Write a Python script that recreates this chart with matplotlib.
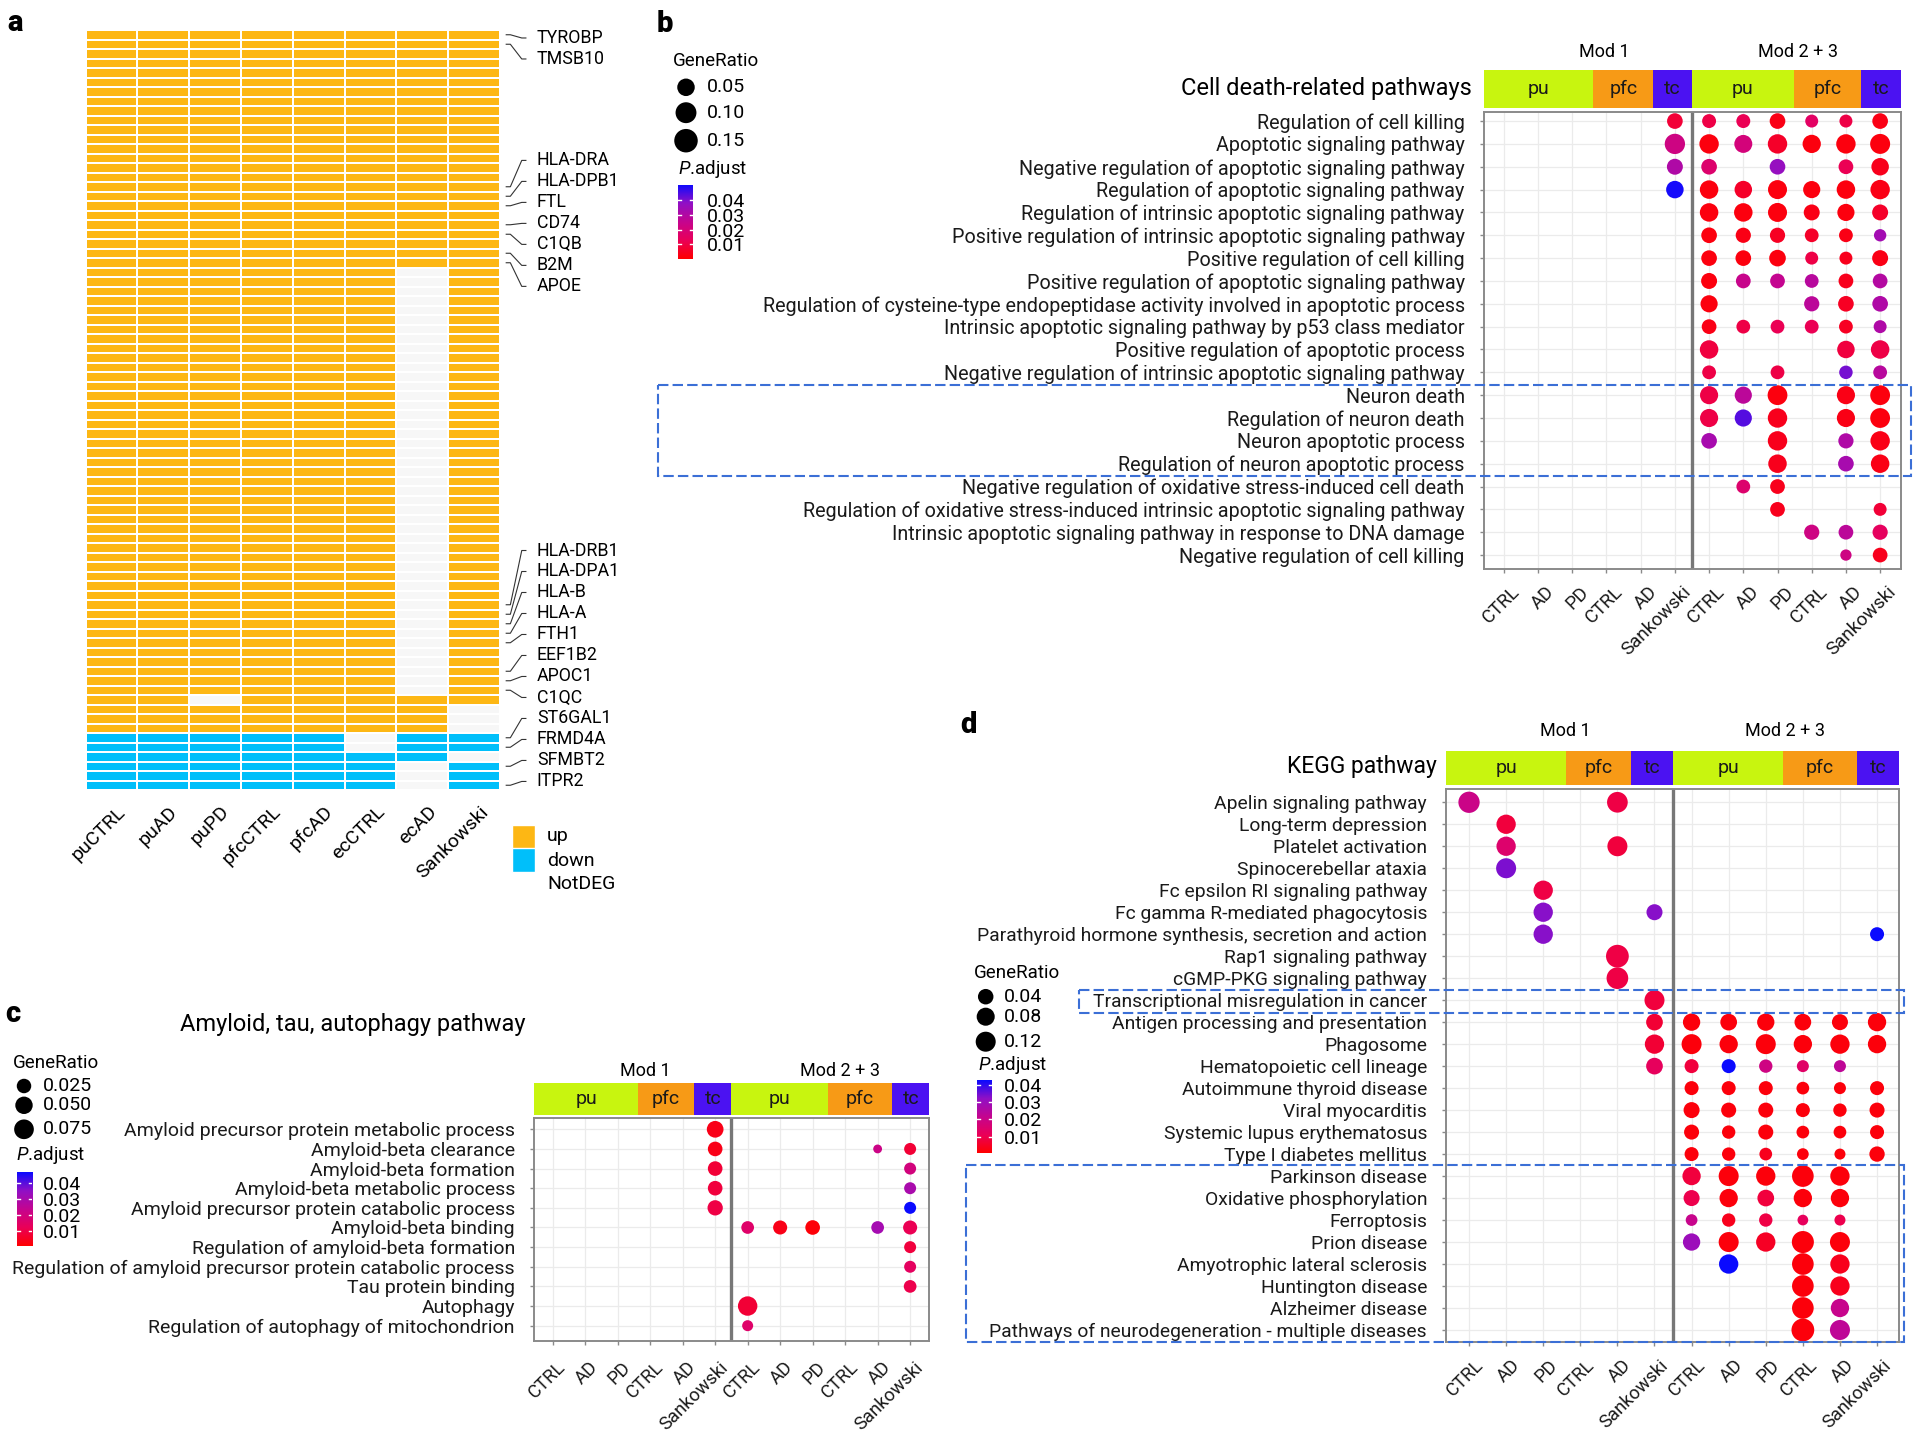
import numpy as np
import matplotlib
matplotlib.use('Agg')
import matplotlib.pyplot as plt
from matplotlib.colors import LinearSegmentedColormap, ListedColormap, Normalize
from matplotlib.patches import Rectangle
from matplotlib.transforms import ScaledTranslation

plt.rcParams['font.family'] = ['Roboto', 'DejaVu Sans']
plt.rcParams['mathtext.fontset'] = 'custom'
plt.rcParams['mathtext.rm'] = 'Roboto'
plt.rcParams['mathtext.it'] = 'Roboto:italic'

# ---------------- data: panel a (DEG status heatmap) ----------------
samples = ['puCTRL', 'puAD', 'puPD', 'pfcCTRL', 'pfcAD', 'ecCTRL', 'ecAD', 'Sankowski']
# status runs from top to bottom for every sample (80 genes)
heat_runs = [
    [('up', 74), ('down', 6)],
    [('up', 74), ('down', 6)],
    [('up', 70), ('NotDEG', 1), ('up', 3), ('down', 6)],
    [('up', 74), ('down', 6)],
    [('up', 74), ('down', 6)],
    [('up', 74), ('NotDEG', 2), ('down', 4)],
    [('up', 25), ('NotDEG', 45), ('up', 4), ('down', 3), ('NotDEG', 3)],
    [('up', 71), ('NotDEG', 3), ('down', 2), ('NotDEG', 1), ('down', 3)],
]
marked_genes = ['TYROBP', 'TMSB10', 'HLA-DRA', 'HLA-DPB1', 'FTL', 'CD74', 'C1QB', 'B2M', 'APOE',
                'HLA-DRB1', 'HLA-DPA1', 'HLA-B', 'HLA-A', 'FTH1', 'EEF1B2', 'APOC1', 'C1QC',
                'ST6GAL1', 'FRMD4A', 'SFMBT2', 'ITPR2']
marked_rows = [0, 1, 16, 17, 18, 20, 21, 23, 24, 60, 61, 62, 63, 64, 67, 68, 69, 74, 75, 77, 79]

# ---------------- shared dot-plot categories ----------------
conditions = ['CTRL', 'AD', 'PD', 'CTRL', 'AD', 'Sankowski'] * 2
regions = ['pu', 'pfc', 'tc', 'pu', 'pfc', 'tc']
region_colors = ['#C8F50F', '#F79A16', '#4B12F2', '#C8F50F', '#F79A16', '#4B12F2']

# ---------------- panel b ----------------
b_terms = ['Regulation of cell killing', 'Apoptotic signaling pathway',
           'Negative regulation of apoptotic signaling pathway', 'Regulation of apoptotic signaling pathway',
           'Regulation of intrinsic apoptotic signaling pathway',
           'Positive regulation of intrinsic apoptotic signaling pathway', 'Positive regulation of cell killing',
           'Positive regulation of apoptotic signaling pathway',
           'Regulation of cysteine-type endopeptidase activity involved in apoptotic process',
           'Intrinsic apoptotic signaling pathway by p53 class mediator', 'Positive regulation of apoptotic process',
           'Negative regulation of intrinsic apoptotic signaling pathway', 'Neuron death',
           'Regulation of neuron death', 'Neuron apoptotic process', 'Regulation of neuron apoptotic process',
           'Negative regulation of oxidative stress-induced cell death',
           'Regulation of oxidative stress-induced intrinsic apoptotic signaling pathway',
           'Intrinsic apoptotic signaling pathway in response to DNA damage', 'Negative regulation of cell killing']
b_ratio = [
    [0, 0, 0, 0, 0, .030, .016, .016, .030, .010, .010, .030],
    [0, 0, 0, 0, 0, .090, .076, .056, .076, .060, .076, .085],
    [0, 0, 0, 0, 0, .033, .030, 0, .030, 0, .022, .050],
    [0, 0, 0, 0, 0, .050, .063, .050, .070, .046, .063, .076],
    [0, 0, 0, 0, 0, 0, .063, .063, .070, .033, .046, .033],
    [0, 0, 0, 0, 0, 0, .030, .026, .026, .015, .015, .007],
    [0, 0, 0, 0, 0, 0, .030, .030, .040, .010, .010, .033],
    [0, 0, 0, 0, 0, 0, .033, .022, .022, .015, .022, .022],
    [0, 0, 0, 0, 0, 0, .046, 0, 0, .026, .030, .030],
    [0, 0, 0, 0, 0, 0, .022, .015, .015, .015, .015, .010],
    [0, 0, 0, 0, 0, 0, .063, 0, 0, 0, .050, .063],
    [0, 0, 0, 0, 0, 0, .015, 0, .015, 0, .013, .015],
    [0, 0, 0, 0, 0, 0, .058, .046, .082, 0, .058, .082],
    [0, 0, 0, 0, 0, 0, .058, .046, .076, 0, .058, .082],
    [0, 0, 0, 0, 0, 0, .030, 0, .076, 0, .026, .076],
    [0, 0, 0, 0, 0, 0, 0, 0, .063, 0, .030, .063],
    [0, 0, 0, 0, 0, 0, 0, .015, .022, 0, 0, 0],
    [0, 0, 0, 0, 0, 0, 0, 0, .022, 0, 0, .010],
    [0, 0, 0, 0, 0, 0, 0, 0, 0, .026, .022, .026],
    [0, 0, 0, 0, 0, 0, 0, 0, 0, 0, .003, .022],
]
b_padj = [
    [0, 0, 0, 0, 0, .008, .010, .012, .003, .015, .010, .003],
    [0, 0, 0, 0, 0, .022, .002, .020, .006, .002, .002, .002],
    [0, 0, 0, 0, 0, .030, .017, 0, .036, 0, .012, .004],
    [0, 0, 0, 0, 0, .049, .002, .006, .002, .002, .002, .003],
    [0, 0, 0, 0, 0, 0, .002, .002, .002, .003, .002, .006],
    [0, 0, 0, 0, 0, 0, .002, .003, .005, .006, .003, .033],
    [0, 0, 0, 0, 0, 0, .002, .002, .002, .010, .004, .003],
    [0, 0, 0, 0, 0, 0, .002, .024, .025, .028, .004, .029],
    [0, 0, 0, 0, 0, 0, .002, 0, 0, .027, .005, .030],
    [0, 0, 0, 0, 0, 0, .003, .010, .012, .012, .005, .030],
    [0, 0, 0, 0, 0, 0, .009, 0, 0, 0, .009, .010],
    [0, 0, 0, 0, 0, 0, .010, 0, .010, 0, .040, .028],
    [0, 0, 0, 0, 0, 0, .010, .027, .002, 0, .003, .002],
    [0, 0, 0, 0, 0, 0, .010, .043, .004, 0, .003, .002],
    [0, 0, 0, 0, 0, 0, .032, 0, .004, 0, .030, .003],
    [0, 0, 0, 0, 0, 0, 0, 0, .004, 0, .032, .003],
    [0, 0, 0, 0, 0, 0, 0, .017, .004, 0, 0, 0],
    [0, 0, 0, 0, 0, 0, 0, 0, .004, 0, 0, .008],
    [0, 0, 0, 0, 0, 0, 0, 0, 0, .022, .027, .014],
    [0, 0, 0, 0, 0, 0, 0, 0, 0, 0, .022, .004],
]

# ---------------- panel c ----------------
c_terms = ['Amyloid precursor protein metabolic process', 'Amyloid-beta clearance', 'Amyloid-beta formation',
           'Amyloid-beta metabolic process', 'Amyloid precursor protein catabolic process',
           'Amyloid-beta binding', 'Regulation of amyloid-beta formation',
           'Regulation of amyloid precursor protein catabolic process', 'Tau protein binding', 'Autophagy',
           'Regulation of autophagy of mitochondrion']
c_ratio = [
    [0, 0, 0, 0, 0, .043, 0, 0, 0, 0, 0, 0],
    [0, 0, 0, 0, 0, .026, 0, 0, 0, 0, .001, .0105],
    [0, 0, 0, 0, 0, .026, 0, 0, 0, 0, 0, .0105],
    [0, 0, 0, 0, 0, .026, 0, 0, 0, 0, 0, .0105],
    [0, 0, 0, 0, 0, .031, 0, 0, 0, 0, 0, .0105],
    [0, 0, 0, 0, 0, 0, .014, .022, .026, 0, .014, .022],
    [0, 0, 0, 0, 0, 0, 0, 0, 0, 0, 0, .0105],
    [0, 0, 0, 0, 0, 0, 0, 0, 0, 0, 0, .0105],
    [0, 0, 0, 0, 0, 0, 0, 0, 0, 0, 0, .014],
    [0, 0, 0, 0, 0, 0, .072, 0, 0, 0, 0, 0],
    [0, 0, 0, 0, 0, 0, .0065, 0, 0, 0, 0, 0],
]
c_padj = [
    [0, 0, 0, 0, 0, .004, 0, 0, 0, 0, 0, 0],
    [0, 0, 0, 0, 0, .004, 0, 0, 0, 0, .022, .008],
    [0, 0, 0, 0, 0, .008, 0, 0, 0, 0, 0, .020],
    [0, 0, 0, 0, 0, .009, 0, 0, 0, 0, 0, .030],
    [0, 0, 0, 0, 0, .010, 0, 0, 0, 0, 0, .048],
    [0, 0, 0, 0, 0, 0, .016, .004, .002, 0, .031, .012],
    [0, 0, 0, 0, 0, 0, 0, 0, 0, 0, 0, .009],
    [0, 0, 0, 0, 0, 0, 0, 0, 0, 0, 0, .014],
    [0, 0, 0, 0, 0, 0, 0, 0, 0, 0, 0, .011],
    [0, 0, 0, 0, 0, 0, .008, 0, 0, 0, 0, 0],
    [0, 0, 0, 0, 0, 0, .016, 0, 0, 0, 0, 0],
]

# ---------------- panel d ----------------
d_terms = ['Apelin signaling pathway', 'Long-term depression', 'Platelet activation', 'Spinocerebellar ataxia',
           'Fc epsilon RI signaling pathway', 'Fc gamma R-mediated phagocytosis',
           'Parathyroid hormone synthesis, secretion and action', 'Rap1 signaling pathway',
           'cGMP-PKG signaling pathway', 'Transcriptional misregulation in cancer',
           'Antigen processing and presentation', 'Phagosome', 'Hematopoietic cell lineage',
           'Autoimmune thyroid disease', 'Viral myocarditis', 'Systemic lupus erythematosus',
           'Type I diabetes mellitus', 'Parkinson disease', 'Oxidative phosphorylation', 'Ferroptosis',
           'Prion disease', 'Amyotrophic lateral sclerosis', 'Huntington disease', 'Alzheimer disease',
           'Pathways of neurodegeneration - multiple diseases']
d_ratio = [
    [.150, 0, 0, 0, .136, 0, 0, 0, 0, 0, 0, 0],
    [0, .105, 0, 0, 0, 0, 0, 0, 0, 0, 0, 0],
    [0, .105, 0, 0, .120, 0, 0, 0, 0, 0, 0, 0],
    [0, .120, 0, 0, 0, 0, 0, 0, 0, 0, 0, 0],
    [0, 0, .105, 0, 0, 0, 0, 0, 0, 0, 0, 0],
    [0, 0, .105, 0, 0, .047, 0, 0, 0, 0, 0, 0],
    [0, 0, .105, 0, 0, 0, 0, 0, 0, 0, 0, .023],
    [0, 0, 0, 0, .190, 0, 0, 0, 0, 0, 0, 0],
    [0, 0, 0, 0, .160, 0, 0, 0, 0, 0, 0, 0],
    [0, 0, 0, 0, 0, .120, 0, 0, 0, 0, 0, 0],
    [0, 0, 0, 0, 0, .057, .067, .057, .067, .057, .047, .085],
    [0, 0, 0, 0, 0, .105, .120, .085, .120, .085, .105, .085],
    [0, 0, 0, 0, 0, .057, .023, .023, .017, .0075, .0075, 0],
    [0, 0, 0, 0, 0, 0, .023, .023, .023, .012, .0075, .023],
    [0, 0, 0, 0, 0, 0, .047, .034, .034, .023, .017, .034],
    [0, 0, 0, 0, 0, 0, .034, .017, .034, .012, .012, .023],
    [0, 0, 0, 0, 0, 0, .023, .017, .012, .006, .003, .038],
    [0, 0, 0, 0, 0, 0, .085, .120, .105, .160, .105, 0],
    [0, 0, 0, 0, 0, 0, .047, .085, .057, .085, .085, 0],
    [0, 0, 0, 0, 0, 0, .006, .017, .017, .002, .003, 0],
    [0, 0, 0, 0, 0, 0, .067, .120, .105, .170, .120, 0],
    [0, 0, 0, 0, 0, 0, 0, .105, 0, .160, .105, 0],
    [0, 0, 0, 0, 0, 0, 0, 0, 0, .160, .105, 0],
    [0, 0, 0, 0, 0, 0, 0, 0, 0, .160, .085, 0],
    [0, 0, 0, 0, 0, 0, 0, 0, 0, .190, .120, 0],
]
d_padj = [
    [.020, 0, 0, 0, .009, 0, 0, 0, 0, 0, 0, 0],
    [0, .008, 0, 0, 0, 0, 0, 0, 0, 0, 0, 0],
    [0, .015, 0, 0, .008, 0, 0, 0, 0, 0, 0, 0],
    [0, .034, 0, 0, 0, 0, 0, 0, 0, 0, 0, 0],
    [0, 0, .009, 0, 0, 0, 0, 0, 0, 0, 0, 0],
    [0, 0, .033, 0, 0, .033, 0, 0, 0, 0, 0, 0],
    [0, 0, .033, 0, 0, 0, 0, 0, 0, 0, 0, .045],
    [0, 0, 0, 0, .009, 0, 0, 0, 0, 0, 0, 0],
    [0, 0, 0, 0, .009, 0, 0, 0, 0, 0, 0, 0],
    [0, 0, 0, 0, 0, .008, 0, 0, 0, 0, 0, 0],
    [0, 0, 0, 0, 0, .007, .002, .002, .002, .002, .002, .002],
    [0, 0, 0, 0, 0, .007, .002, .002, .002, .002, .002, .002],
    [0, 0, 0, 0, 0, .012, .008, .045, .019, .014, .023, 0],
    [0, 0, 0, 0, 0, 0, .002, .002, .002, .002, .002, .002],
    [0, 0, 0, 0, 0, 0, .002, .002, .002, .002, .002, .002],
    [0, 0, 0, 0, 0, 0, .002, .002, .002, .002, .002, .002],
    [0, 0, 0, 0, 0, 0, .002, .002, .004, .002, .002, .002],
    [0, 0, 0, 0, 0, 0, .008, .002, .002, .002, .002, 0],
    [0, 0, 0, 0, 0, 0, .010, .002, .008, .002, .002, 0],
    [0, 0, 0, 0, 0, 0, .021, .004, .009, .012, .010, 0],
    [0, 0, 0, 0, 0, 0, .030, .002, .005, .002, .002, 0],
    [0, 0, 0, 0, 0, 0, 0, .044, 0, .002, .004, 0],
    [0, 0, 0, 0, 0, 0, 0, 0, 0, .002, .004, 0],
    [0, 0, 0, 0, 0, 0, 0, 0, 0, .002, .021, 0],
    [0, 0, 0, 0, 0, 0, 0, 0, 0, .002, .023, 0],
]

# legend keys
b_leg_vals = [0.05, 0.10, 0.15]
c_leg_vals = [0.025, 0.050, 0.075]
d_leg_vals = [0.04, 0.08, 0.12]

# ---------------- figure ----------------
W, H, DPI = 1920, 1431, 100
fig = plt.figure(figsize=(W / DPI, H / DPI), dpi=DPI)
padj_cmap = LinearSegmentedColormap.from_list(
    'padj', [(0, '#FF0000'), (0.25, '#EA0058'), (0.5, '#C40590'), (0.75, '#9010C6'), (1, '#0A0AFF')])
dash_blue = '#3B6FD6'


def px_axes(x0, y0, x1, y1, **kw):
    return fig.add_axes([x0 / W, 1 - y1 / H, (x1 - x0) / W, (y1 - y0) / H], **kw)


def shift(labels, dx_px, dy_px=0):
    off = ScaledTranslation(dx_px / DPI, -dy_px / DPI, fig.dpi_scale_trans)
    for t in labels:
        t.set_transform(t.get_transform() + off)


# ---------- panel a ----------
code = {'NotDEG': 0, 'up': 1, 'down': 2}
n_genes = sum(n for _, n in heat_runs[0])
status = np.zeros((n_genes, len(samples)))
for j, runs in enumerate(heat_runs):
    r = 0
    for st, n in runs:
        status[r:r + n, j] = code[st]
        r += n

axa = px_axes(85.7, 30, 500, 790)
axa.pcolormesh(np.arange(len(samples) + 1), np.arange(n_genes + 1), status,
               cmap=ListedColormap(['#F7F7F7', '#FDB714', '#00BFFA']), vmin=-0.5, vmax=2.5,
               edgecolors='white', linewidth=1.4)
axa.set_xlim(0, len(samples))
axa.set_ylim(n_genes, 0)
axa.set_yticks([])
axa.set_xticks(np.arange(len(samples)) + 0.5)
axa.set_xticklabels(samples, rotation=45, ha='right', va='top', rotation_mode='anchor', fontsize=14)
axa.tick_params(axis='x', length=0, pad=9)
shift(axa.get_xticklabels(), 5)
for s in axa.spines.values():
    s.set_visible(False)


def spread(targets, gap, lo, hi):
    groups = [[t] for t in targets]

    def start(g):
        s0 = np.mean(g) - (len(g) - 1) * gap / 2
        return min(max(s0, lo), hi - (len(g) - 1) * gap)

    merged = True
    while merged:
        merged = False
        for i in range(len(groups) - 1):
            if start(groups[i]) + len(groups[i]) * gap > start(groups[i + 1]):
                groups[i] = groups[i] + groups.pop(i + 1)
                merged = True
                break
    out = []
    for g in groups:
        out += [start(g) + k * gap for k in range(len(g))]
    return out


targets = [r + 0.5 for r in marked_rows]
label_pos = spread(targets, 2.21, 0.84, 79.1)
for gname, t, lp in zip(marked_genes, targets, label_pos):
    axa.plot([8.12, 8.2, 8.42, 8.5], [t, t, lp, lp], color='#333333', lw=0.8, clip_on=False)
    axa.text(8.71, lp, gname, va='center', ha='left', fontsize=12.8)


# ---------- dot plot helper ----------
header_edges = [3.62, 5.36, 6.5, 9.47, 11.45]


def dot_panel(box, hdr, terms, ratio, padj, xlim, ylim, size_fn, norm, fs, xfs, mod_x, mod_gap, xpad, xdx):
    ax = px_axes(*box)
    ratio = np.asarray(ratio, float)
    padj = np.asarray(padj, float)
    rr, cc = np.nonzero(ratio)
    ax.scatter(cc + 1, rr + 1, s=size_fn(ratio[rr, cc]), c=padj[rr, cc], cmap=padj_cmap, norm=norm,
               linewidths=0, zorder=3)
    ax.set_xlim(*xlim)
    ax.set_ylim(*ylim)
    ax.set_xticks(np.arange(1, len(conditions) + 1))
    ax.set_xticklabels(conditions, rotation=45, ha='right', va='top', rotation_mode='anchor', fontsize=xfs)
    ax.set_yticks(np.arange(1, len(terms) + 1))
    ax.set_yticklabels(terms, fontsize=fs)
    ax.grid(color='#EBEBEB', lw=0.9)
    ax.set_axisbelow(True)
    ax.axvline(6.5, color='#777777', lw=2.4, zorder=2)
    for s in ax.spines.values():
        s.set_color('#8A8A8A')
        s.set_linewidth(1.4)
    ax.tick_params(axis='y', color='#8A8A8A', length=2.9, width=1, labelcolor='#1A1A1A', pad=11)
    ax.tick_params(axis='x', color='#8A8A8A', length=2.9, width=1, labelcolor='#1A1A1A', pad=xpad)
    shift(ax.get_xticklabels(), xdx)

    hx = px_axes(box[0], hdr[0], box[2], hdr[1])
    hx.set_xlim(*xlim)
    hx.set_ylim(0, 1)
    hx.axis('off')
    edges = [xlim[0]] + header_edges + [xlim[1]]
    for i, (name, col) in enumerate(zip(regions, region_colors)):
        hx.add_patch(Rectangle((edges[i], 0), edges[i + 1] - edges[i], 1, fc=col, ec='none'))
        hx.text((edges[i] + edges[i + 1]) / 2, 0.5, name, ha='center', va='center', fontsize=14,
                color='#1A1A1A')
    for mx, lab in zip(mod_x, ['Mod 1', 'Mod 2 + 3']):
        hx.annotate(lab, (mx, 1), xycoords=('data', 'axes fraction'), xytext=(0, mod_gap),
                    textcoords='offset points', ha='center', va='center', fontsize=13)
    return ax


def sizer(a, b):
    return lambda v: ((a + b * np.sqrt(np.asarray(v))) * 72 / DPI) ** 2


b_size = sizer(9.3, 36.65)
c_size = sizer(7.4, 44.8)
d_size = sizer(9.34, 30.8)
b_norm = Normalize(0.0, 0.05)
c_norm = Normalize(0.0009, 0.0472)
d_norm = Normalize(0.0006, 0.043)

dot_panel((1484, 111.7, 1901, 569), (70, 108), b_terms, b_ratio, b_padj, (0.42, 12.61), (20.61, 0.59),
          b_size, b_norm, 14.2, 13.5, [3.95, 9.6], 13, 7, 7)
dot_panel((534.3, 1118.3, 929.3, 1341), (1083.3, 1115), c_terms, c_ratio, c_padj, (0.434, 12.59),
          (11.78, 0.44), c_size, c_norm, 14, 13.3, [3.84, 9.84], 9, 9.5, 4)
dot_panel((1446.4, 789.3, 1899.3, 1342.3), (750.7, 785), d_terms, d_ratio, d_padj, (0.39, 12.6),
          (25.56, 0.41), d_size, d_norm, 13.9, 13.3, [3.59, 9.52], 14, 7, 5)


# ---------- legends ----------
def colorbar(box, norm, pad):
    cax = px_axes(*box)
    grad = np.linspace(norm.vmin, norm.vmax, 256)[:, None]
    cax.imshow(grad, cmap=padj_cmap, norm=norm, aspect='auto', origin='lower',
               extent=[0, 1, norm.vmin, norm.vmax])
    ticks = [0.01, 0.02, 0.03, 0.04]
    for t in ticks:
        cax.plot([0, 0.2], [t, t], color='white', lw=1)
        cax.plot([0.8, 1], [t, t], color='white', lw=1)
    cax.set_xlim(0, 1)
    cax.set_ylim(norm.vmin, norm.vmax)
    cax.set_xticks([])
    cax.yaxis.tick_right()
    cax.set_yticks(ticks)
    cax.set_yticklabels(['%.2f' % t for t in ticks], fontsize=14)
    cax.tick_params(length=0, pad=pad)
    for s in cax.spines.values():
        s.set_visible(False)


ov = fig.add_axes([0, 0, 1, 1], zorder=10)
ov.set_xlim(0, W)
ov.set_ylim(H, 0)
ov.axis('off')


def size_legend(title_xy, dot_x, dot_ys, values, labels, size_fn, lab_x, padj_xy):
    ov.text(title_xy[0], title_xy[1], 'GeneRatio', fontsize=13.5, va='center', ha='left')
    ov.scatter([dot_x] * len(values), dot_ys, s=size_fn(values), color='black', linewidths=0)
    for y, lab in zip(dot_ys, labels):
        ov.text(lab_x, y, lab, fontsize=14, va='center', ha='left')
    ov.text(padj_xy[0], padj_xy[1], r'$\mathit{P}$.adjust', fontsize=13.5, va='center', ha='left')


size_legend((672.7, 60.7), 686, [87.3, 112.7, 140.7], b_leg_vals, ['0.05', '0.10', '0.15'], b_size, 707,
            (677.5, 169))
colorbar((678, 185, 693, 259.3), b_norm, 10)
size_legend((12.5, 1063.3), 24, [1086, 1105.3, 1129.3], c_leg_vals, ['0.025', '0.050', '0.075'], c_size, 43,
            (16, 1155))
colorbar((16.8, 1171.7, 32, 1245.7), c_norm, 8)
size_legend((974, 973.3), 985.7, [996.7, 1016.7, 1041.7], d_leg_vals, ['0.04', '0.08', '0.12'], d_size, 1003.6,
            (977.5, 1065))
colorbar((976.8, 1080, 991.8, 1152.7), d_norm, 8.5)

# heatmap legend
for y0, col in [(825, '#FDB714'), (848, '#00BFFA')]:
    ov.add_patch(Rectangle((512, y0), 23, 24, fc=col, ec='white', lw=1))
for y, lab in [(836, 'up'), (861, 'down'), (884, 'NotDEG')]:
    ov.text(547, y, lab, fontsize=14, va='center', ha='left')

# titles
ov.text(1472, 89, 'Cell death-related pathways', fontsize=17, ha='right', va='center')
ov.text(180, 1024, 'Amyloid, tau, autophagy pathway', fontsize=17, ha='left', va='center')
ov.text(1437, 766.7, 'KEGG pathway', fontsize=16.5, ha='right', va='center')

# panel letters
for x, y, lab in [(7, 31, 'a'), (657, 32, 'b'), (5, 1022, 'c'), (960, 733, 'd')]:
    ov.text(x, y, lab, fontsize=21, fontweight='heavy', ha='left', va='baseline')

# highlight boxes
for x0, y0, x1, y1 in [(658, 385, 1910.6, 476), (1078.6, 990, 1904, 1013.3), (965.7, 1165, 1904, 1342.3)]:
    ov.add_patch(Rectangle((x0, y0), x1 - x0, y1 - y0, fill=False, ec=dash_blue, lw=1.5,
                           ls=(0, (5, 2))))

fig.savefig('out.png', dpi=DPI)
